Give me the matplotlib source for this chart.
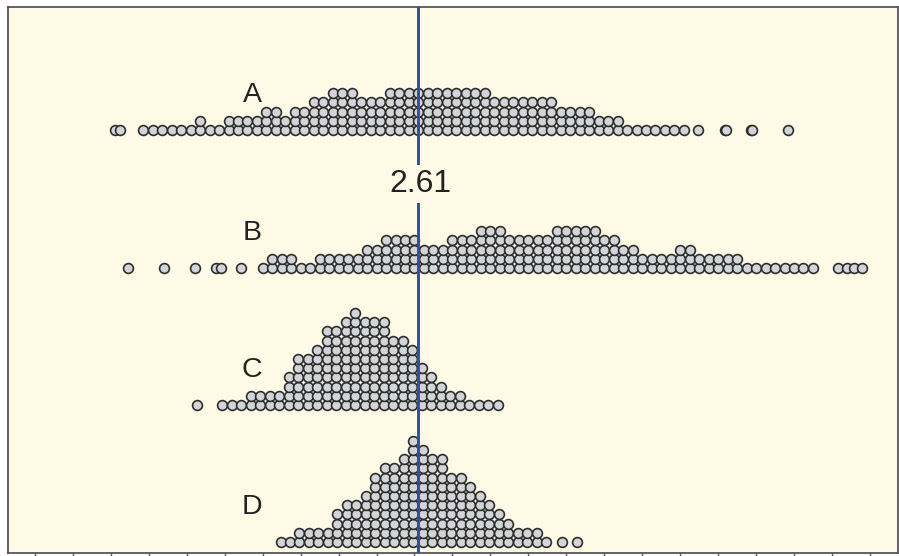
import numpy as np
import matplotlib
matplotlib.use('Agg')
import matplotlib.pyplot as plt

# Dot plot data: number of stacked dots per bin (bin width 0.025),
# starting at the value given for each group, plus isolated outliers
bin_width = 0.025
mean_value = 2.61

groups = ['A', 'B', 'C', 'D']

a_start = 1.885
a_counts = [1, 1, 1, 1, 1, 1, 2, 1, 1, 2, 2, 2, 2, 3, 3, 2, 3, 3, 4, 4,
            5, 5, 5, 4, 4, 4, 5, 5, 5, 5, 5, 5, 5, 5, 5, 5, 5, 4, 4, 4,
            4, 4, 4, 4, 3, 3, 3, 3, 2, 2, 2, 1, 1, 1, 1, 1, 1, 1]
a_outliers = [1.81, 1.823, 3.347, 3.418, 3.421, 3.487, 3.49, 3.584]

b_start = 2.20
b_counts = [1, 2, 2, 2, 1, 1, 2, 2, 2, 2, 2, 3, 3, 4, 4, 4, 4, 3, 3, 3,
            4, 4, 4, 5, 5, 5, 4, 4, 4, 4, 4, 5, 5, 5, 5, 5, 4, 4, 3, 3,
            2, 2, 2, 2, 3, 3, 2, 2, 2, 2, 2, 1, 1, 1, 1, 1, 1, 1, 1]
b_outliers = [1.844, 1.939, 2.023, 2.076, 2.089, 2.142, 3.715, 3.74, 3.757, 3.778]

c_start = 2.094
c_counts = [1, 1, 1, 2, 2, 2, 2, 4, 6, 6, 7, 9, 9, 10, 11, 10, 10, 10, 8, 8,
            7, 5, 4, 3, 2, 2, 1, 1, 1, 1]
c_outliers = [2.028]

d_start = 2.247
d_counts = [1, 1, 2, 2, 2, 2, 4, 5, 5, 6, 8, 9, 9, 10, 12, 11, 10, 10, 8, 8,
            7, 6, 5, 4, 3, 2, 2, 2, 1]
d_outliers = [2.989, 3.028]

starts = [a_start, b_start, c_start, d_start]
counts = [a_counts, b_counts, c_counts, d_counts]
outliers = [a_outliers, b_outliers, c_outliers, d_outliers]

# Layout (vertical axis in pixel-like units)
baselines = [423, 285, 148, 11]
row_step = 9.2
label_x = 2.172
label_dy = 35

bg_color = '#fefae6'
dot_face = '#d2d4d8'
dot_edge = '#2e2e2e'
line_color = '#2a50a6'

fig = plt.figure(figsize=(8.99, 5.56), dpi=100)
ax = fig.add_axes([8 / 899, 3 / 556, 890 / 899, 546 / 556])
ax.set_facecolor(bg_color)

for name, start, cnt, outs, base in zip(groups, starts, counts, outliers, baselines):
    cnt = np.array(cnt)
    cols = start + bin_width * np.arange(len(cnt))
    xs = np.repeat(cols, cnt)
    ys = np.concatenate([base + row_step * np.arange(c) for c in cnt])
    xs = np.concatenate([xs, outs])
    ys = np.concatenate([ys, np.full(len(outs), base)])
    ax.scatter(xs, ys, s=50, facecolor=dot_face, edgecolor=dot_edge,
               linewidth=1.2, zorder=2)
    ax.text(label_x, base + label_dy, name, ha='center', va='center',
            fontsize=20.5, family='Liberation Sans', color='#222222', zorder=4)

# Reference line at the overall mean
ax.axvline(mean_value, color=line_color, linewidth=2.1, zorder=3)
ax.text(mean_value + 0.005, 369, '2.61', ha='center', va='center',
        fontsize=23, family='Liberation Sans', color='#222222', zorder=5,
        bbox=dict(facecolor=bg_color, edgecolor='none', pad=3))

ax.set_xlim(1.529, 3.874)
ax.set_ylim(0, 546)
ax.set_xticks(np.round(np.arange(1.6, 3.85, 0.1), 2))
ax.set_xticklabels([])
ax.set_yticks([])
ax.tick_params(axis='x', direction='out', length=2.5, width=1.0, color='#555555')
for side in ax.spines.values():
    side.set_color('#555555')
    side.set_linewidth(1.3)

plt.savefig('out.png', dpi=100, facecolor='white')
